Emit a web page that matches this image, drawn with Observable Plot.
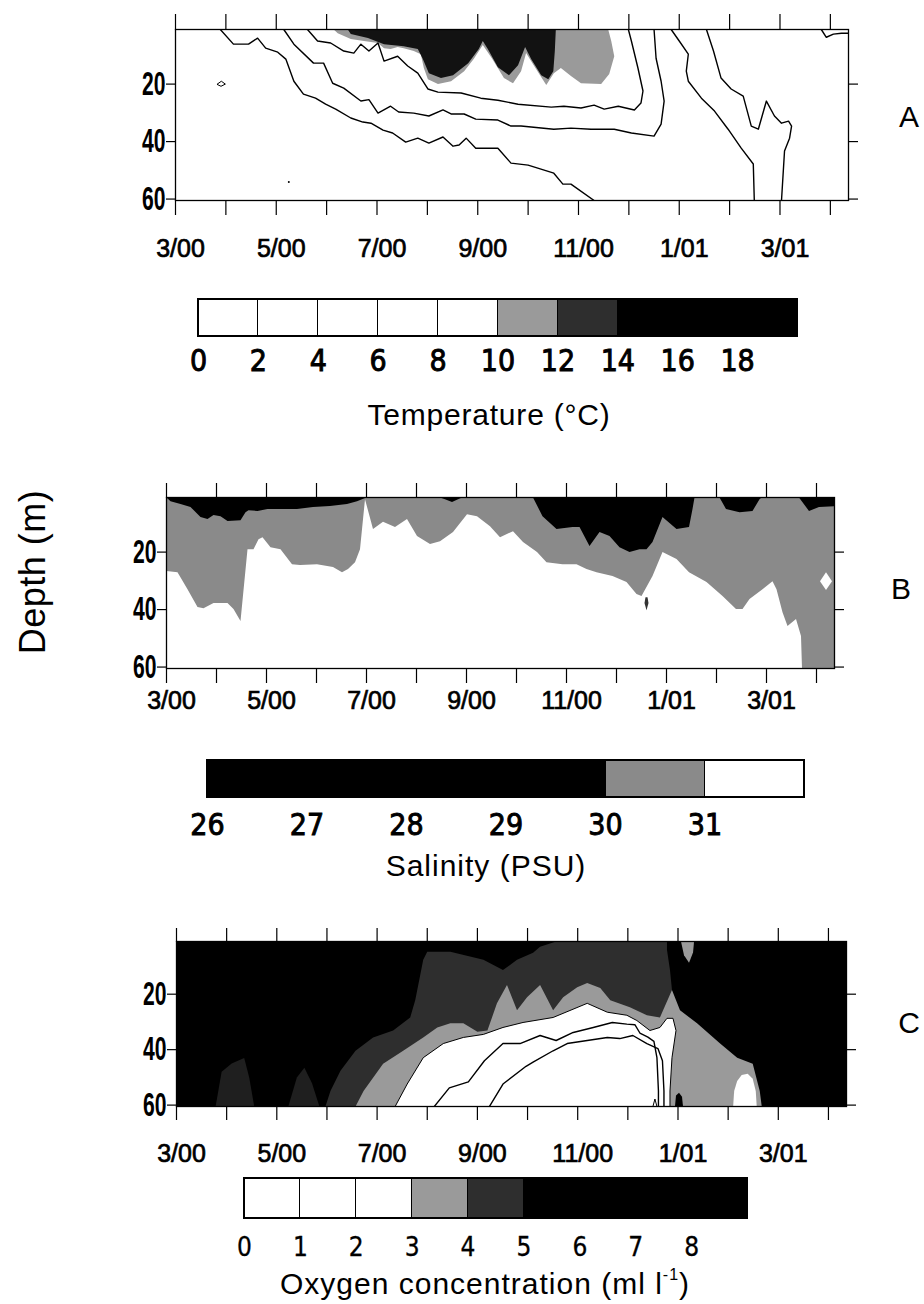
<!DOCTYPE html>
<html>
<head>
<meta charset="utf-8">
<script src="https://cdn.jsdelivr.net/npm/d3@7"></script>
<script src="https://cdn.jsdelivr.net/npm/@observablehq/plot@0.6"></script>
<style>
  html, body { margin: 0; padding: 0; background: white; }
  #page { position: relative; width: 924px; height: 1304px; overflow: hidden; background: white;
          font-family: "Liberation Sans", Arial, Helvetica, sans-serif; color: black; }
  .lbl { position: absolute; white-space: nowrap; line-height: 1; }
</style>
</head>
<body>
<div id="page"></div>
<script>
// ---------- shared time / depth axes (x = months since 1 March 2000, y = depth in m) ----------
const monthTicks = [0, 1, 2, 3, 4, 5, 6, 7, 8, 9, 10, 11, 12, 13];
const dateLabelMonths = [0, 2, 4, 6, 8, 10, 12];
const dateLabels = ["3/00", "5/00", "7/00", "9/00", "11/00", "1/01", "3/01"];
const depthTicks = [20, 40, 60];
const monthDomain = [0, 13.36];
const depthDomain = [1, 60.5];

const LIGHT = "#9a9a9a";   // light stipple class
const DARK = "#2e2e2e";    // dark stipple class
const SALT_GRAY = "#8a8a8a";

// ---------- A: temperature ----------
const tempIso6 = [[0.89,1],[1.15,6.1],[1.45,6.1],[1.63,4.0],[1.79,7.5],[2.03,8.9],[2.19,11.3],[2.35,19.0],[2.54,23.5],[2.78,24.9],[2.98,27.0],[3.18,28.7],[3.48,31.8],[3.72,33.2],[3.88,33.6],[4.12,36.0],[4.31,37.0],[4.57,40.2],[4.81,38.8],[5.03,40.5],[5.31,38.4],[5.51,41.6],[5.63,41.2],[5.77,38.8],[5.96,42.3],[6.40,42.3],[6.66,47.5],[7.00,48.2],[7.51,51.0],[7.69,54.8],[7.85,54.8],[8.31,60.5]];
const tempIso8 = [[2.15,1],[2.35,6.1],[2.74,12.7],[2.94,12.7],[3.12,19.7],[3.34,21.4],[3.68,25.9],[3.84,25.4],[4.02,30.1],[4.27,27.7],[4.43,29.7],[4.73,30.1],[5.03,31.1],[5.31,29.0],[5.47,30.4],[5.73,30.4],[5.96,32.2],[6.40,32.5],[6.66,34.6],[6.86,34.6],[7.51,35.7],[7.85,35.3],[8.25,35.7],[8.71,35.7],[9.05,37.0],[9.50,38.1],[9.64,33.9],[9.70,25.9],[9.64,19.0],[9.54,11.0],[9.50,1]];
const tempIso10 = [[2.62,1],[2.82,5.0],[3.08,5.7],[3.34,8.5],[3.54,9.2],[3.68,6.1],[3.84,8.5],[4.02,5.7],[4.14,12.0],[4.41,10.3],[4.61,13.7],[4.81,16.2],[5.01,21.7],[5.21,22.8],[5.67,23.1],[6.06,24.9],[6.40,25.6],[6.80,27.0],[7.46,28.0],[7.71,27.7],[8.05,28.3],[8.31,27.3],[8.51,28.7],[8.79,27.7],[9.11,29.0],[9.24,26.6],[9.28,22.4],[9.18,14.4],[9.05,5.0],[8.99,1]];
const tempIsoWinter6 = [[9.84,1],[10.00,5.0],[10.18,9.6],[10.14,15.5],[10.18,19.0],[10.44,24.9],[10.70,29.4],[10.97,35.7],[11.23,42.3],[11.47,47.8],[11.49,60.5]];
const tempIso4 = [[10.54,1],[10.68,8.5],[10.83,17.9],[11.03,21.7],[11.27,24.2],[11.43,34.6],[11.57,35.7],[11.73,25.9],[11.89,31.1],[12.03,33.6],[12.17,32.9],[12.23,34.6],[12.19,38.8],[12.09,43.3],[12.03,60.5]];
const tempIso2 = [[12.82,1],[12.92,3.7],[13.06,2.6],[13.22,2.3],[13.36,2.3]];
const tempLoop = [[0.83,20.0],[0.91,19.0],[0.99,20.0],[0.91,20.7]];
const tempSpot = [[2.25,54.1]];
// 10–12 °C band and >12 °C core (outlines, months / depth)
const tempWarm = [[3.14,1],[3.22,2.3],[3.48,4.3],[3.74,5.0],[4.02,5.7],[4.14,7.5],[4.27,7.8],[4.41,7.1],[4.53,7.5],[4.73,8.5],[4.87,9.6],[4.93,14.4],[5.01,18.3],[5.21,20.0],[5.47,19.0],[5.73,15.5],[5.92,11.3],[6.10,6.4],[6.28,11.0],[6.52,17.9],[6.70,19.7],[6.86,15.5],[6.96,9.2],[7.12,13.7],[7.36,20.3],[7.51,16.2],[7.65,14.4],[7.85,17.2],[8.05,19.7],[8.45,20.0],[8.61,16.5],[8.71,10.3],[8.65,5.0],[8.59,1]];
const tempHot = [[3.42,1],[3.48,2.6],[3.82,4.0],[4.14,6.1],[4.53,6.8],[4.81,7.8],[4.91,11.3],[5.03,16.2],[5.27,17.9],[5.51,16.9],[5.81,12.7],[6.02,7.8],[6.10,5.0],[6.20,7.8],[6.40,14.1],[6.62,16.9],[6.80,13.4],[6.94,7.1],[7.06,11.3],[7.26,16.9],[7.40,18.3],[7.50,15.5],[7.53,8.5],[7.55,1]];

const tempLegendLo = [0, 2, 4, 6, 8, 10, 12, 14];
const tempLegendHi = [2, 4, 6, 8, 10, 12, 14, 20];
const tempLegendShade = ["white", "white", "white", "white", "white", LIGHT, DARK, "black"];
const tempLegendTicks = [0, 2, 4, 6, 8, 10, 12, 14, 16, 18];

// ---------- B: salinity ----------
const saltFresh1 = [[0,1],[0.08,2.3],[0.28,3.3],[0.48,4.3],[0.68,7.8],[0.82,8.5],[0.94,7.1],[1.08,7.5],[1.22,9.2],[1.48,8.9],[1.58,6.1],[1.64,5.4],[1.82,5.7],[2.02,5.0],[2.28,5.0],[2.61,5.0],[2.93,4.3],[3.27,4.0],[3.61,3.3],[3.81,2.3],[3.97,1.2],[4.01,1]];
const saltFresh2 = [[5.47,1],[5.57,1.6],[5.71,2.6],[5.83,1.6],[5.91,1]];
const saltFresh3 = [[7.33,1],[7.52,7.5],[7.80,12.0],[8.12,11.3],[8.26,11.3],[8.46,17.9],[8.66,13.0],[8.86,14.4],[9.06,18.3],[9.26,20.0],[9.46,19.0],[9.60,19.0],[9.72,16.5],[9.92,7.8],[10.20,12.0],[10.45,11.3],[10.52,5.0],[10.56,1]];
const saltFresh4 = [[11.06,1],[11.19,5.0],[11.46,6.1],[11.72,5.7],[11.86,1.6],[11.90,1]];
const saltFresh5 = [[12.65,1],[12.85,5.7],[13.05,4.3],[13.36,4.0],[13.36,1]];
// 31 PSU isohaline, left to right
const salt31 = [[0,26.6],[0.22,27.0],[0.42,32.9],[0.62,39.1],[0.74,39.5],[0.94,37.7],[1.22,37.7],[1.34,39.8],[1.48,44.0],[1.62,19.0],[1.74,19.0],[1.84,15.5],[1.92,14.8],[2.08,18.3],[2.28,19.0],[2.51,24.2],[2.67,24.5],[3.01,24.2],[3.33,25.2],[3.51,27.0],[3.63,25.9],[3.77,23.5],[3.87,19.0],[3.97,1.6],[4.13,12.0],[4.33,9.4],[4.57,11.3],[4.81,8.5],[5.01,14.4],[5.27,17.2],[5.47,16.2],[5.73,13.0],[6.01,6.8],[6.21,7.5],[6.47,11.0],[6.67,14.8],[6.93,12.7],[7.13,16.5],[7.41,20.0],[7.60,23.5],[7.92,24.2],[8.20,24.2],[8.40,25.9],[8.60,27.0],[8.92,28.3],[9.20,30.4],[9.40,34.6],[9.50,35.3],[9.72,28.3],[9.92,20.0],[10.20,22.4],[10.45,27.0],[10.80,30.4],[11.12,35.3],[11.39,39.8],[11.52,39.8],[11.66,36.3],[11.92,32.9],[12.12,30.1],[12.20,32.9],[12.32,40.9],[12.42,45.7],[12.59,43.3],[12.69,49.2],[12.71,60.5]];
const saltPocket = [[13.07,30.1],[13.19,27.0],[13.31,30.1],[13.19,33.2]];
const saltDrop = [[9.58,35.7],[9.62,35.7],[9.64,37.7],[9.60,40.2],[9.56,37.7]];

const saltLegendLo = [26, 30, 31];
const saltLegendHi = [30, 31, 32];
const saltLegendShade = ["black", SALT_GRAY, "white"];
const saltLegendTicks = [26, 27, 28, 29, 30, 31];

// ---------- C: oxygen ----------
const oxy45 = [[2.97,60.5],[3.07,54.9],[3.27,47.6],[3.57,40.4],[3.92,35.6],[4.32,33.1],[4.66,28.4],[4.76,22.2],[4.86,13.1],[4.92,7.6],[5.00,4.7],[5.46,4.7],[6.12,7.6],[6.51,11.3],[6.79,7.6],[7.11,5.1],[7.25,2.9],[7.57,1],[9.78,1],[9.78,4.0],[9.84,11.3],[9.88,18.5],[9.88,60.5]];
const oxyPatch1 = [[0.78,60.5],[0.90,48],[1.10,45],[1.35,43],[1.45,50],[1.55,60.5]];
const oxyPatch2 = [[2.23,60.5],[2.40,50],[2.55,46.5],[2.70,52],[2.85,60.5]];
const oxy34 = [[3.57,60.5],[3.73,54.9],[4.12,45.1],[4.52,40.4],[4.92,35.6],[5.20,32.0],[5.46,30.5],[5.72,30.5],[6.00,33.5],[6.20,33.1],[6.39,23.3],[6.59,16.7],[6.79,25.8],[6.99,21.1],[7.25,16.7],[7.51,25.8],[7.71,21.1],[7.99,17.5],[8.19,16.0],[8.45,17.8],[8.65,22.2],[9.04,24.7],[9.38,27.6],[9.64,28.4],[9.88,18.5],[10.04,25.8],[10.38,30.5],[10.84,37.8],[11.18,42.9],[11.49,45.1],[11.63,54.9],[11.67,60.5]];
const oxyTopPatch = [[10.06,1],[10.32,1],[10.30,5],[10.22,8.7],[10.12,6]];
const oxy3 = [[4.36,60.5],[4.60,52.4],[4.92,42.9],[5.32,37.8],[5.72,35.6],[6.12,34.5],[6.51,32.0],[6.91,30.2],[7.51,28.4],[8.19,23.3],[8.59,26.5],[8.98,27.6],[9.18,29.5],[9.44,33.1],[9.64,32.0],[9.78,28.7],[9.90,28.7],[9.96,33.1],[9.88,42.9],[9.84,54.9],[9.84,60.5]];
const oxy2 = [[5.14,60.5],[5.44,53.8],[5.82,51.6],[6.14,44.0],[6.51,37.8],[6.85,37.8],[7.25,34.9],[7.57,36.7],[7.91,33.8],[8.31,32.0],[8.69,30.2],[8.98,30.8],[9.14,31.0],[9.24,34.0],[9.40,35.5],[9.52,37.0],[9.58,42.9],[9.61,54.9],[9.61,60.5]];
const oxy1 = [[6.24,60.5],[6.51,52.4],[6.97,46.0],[7.11,44.5],[7.51,40.4],[7.79,37.8],[8.19,36.7],[8.59,35.6],[8.84,36.0],[9.10,34.9],[9.38,37.8],[9.60,39.6],[9.69,44.0],[9.72,54.9],[9.72,60.5]];
const oxyTinyLoop = [[9.50,60.5],[9.54,57.8],[9.58,60.5]];
const oxyDeepSpot = [[9.94,60.5],[9.96,56.5],[10.02,55.5],[10.08,57.0],[10.10,60.5]];
const oxyLowPocket = [[11.10,60.5],[11.12,54.9],[11.18,51.3],[11.27,49.1],[11.39,48.7],[11.49,50.5],[11.55,54.9],[11.57,60.5]];

const oxyLegendLo = [0, 1, 2, 3, 4, 5];
const oxyLegendHi = [1, 2, 3, 4, 5, 9];
const oxyLegendShade = ["white", "white", "white", LIGHT, DARK, "black"];
const oxyLegendTicks = [0, 1, 2, 3, 4, 5, 6, 7, 8];

// ---------- drawing helpers ----------
const W = 924;
const page = document.getElementById("page");
const dateText = new Map(dateLabelMonths.map((m, i) => [m, dateLabels[i]]));
const SANS = '"Liberation Sans", Arial, Helvetica, sans-serif';
const NARROW = '"Liberation Sans Narrow", "Arial Narrow", "DejaVu Sans Condensed", sans-serif';

const px = d => d[0];
const py = d => d[1];
const region = (pts, fill) => Plot.line(pts, {x: px, y: py, fill, stroke: "none", curve: "linear-closed", clip: true});
const contour = (pts, opts = {}) => Plot.line(pts, {x: px, y: py, stroke: "black", strokeWidth: 1.4, clip: true, ...opts});

// slightly heavier strokes for the medium-weight numerals
function thicken(svg, selector, w) {
  svg.querySelectorAll(selector).forEach(t => {
    t.style.stroke = "black";
    t.style.strokeWidth = w + "px";
    t.style.paintOrder = "stroke";
  });
}

function place(el, top) {
  el.style.position = "absolute";
  el.style.left = "0px";
  el.style.top = top + "px";
  page.appendChild(el);
}

function sectionPlot(cfg, marks) {
  const svg = Plot.plot({
    width: W, height: cfg.h,
    marginLeft: cfg.left, marginRight: W - cfg.right,
    marginTop: cfg.top, marginBottom: cfg.h - cfg.bottom,
    x: {domain: monthDomain, label: null},
    y: {domain: depthDomain, reverse: true, label: null},
    style: {background: "transparent", overflow: "visible", fontFamily: SANS, color: "black"},
    marks: [
      ...marks,
      Plot.frame({stroke: "black", strokeWidth: 1.3}),
      Plot.axisX({anchor: "top", ticks: monthTicks, tickSize: cfg.tickTop, tickFormat: () => "", strokeWidth: 1.2}),
      Plot.axisX({anchor: "bottom", ticks: monthTicks, tickSize: cfg.tickBottom, tickFormat: () => "", strokeWidth: 1.2}),
      Plot.axisX({anchor: "bottom", ticks: dateLabelMonths, tickSize: 0, tickPadding: cfg.labelPad,
                  tickFormat: d => dateText.get(d), fontSize: 25, fontFamily: SANS, dx: 5}),
      Plot.axisY({anchor: "left", ticks: depthTicks, tickSize: 9, tickPadding: 1, strokeWidth: 1.2,
                  fontSize: 33, fontWeight: "bold", fontFamily: SANS}),
      Plot.axisY({anchor: "right", ticks: depthTicks, tickSize: 9, tickFormat: () => "", strokeWidth: 1.2})
    ]
  });
  // the depth numerals are set in a tall, condensed cut
  svg.querySelectorAll('g[aria-label="y-axis tick label"] text').forEach(t => {
    const tr = t.getAttribute("transform") || "";
    t.setAttribute("transform", tr + " scale(0.64,1)");
  });
  thicken(svg, 'g[aria-label="x-axis tick label"] text', 0.7);
  place(svg, cfg.svgTop);
  return svg;
}

function shadeBar(cfg, lo, hi, shade, ticks) {
  const idx = lo.map((_, i) => i);
  const svg = Plot.plot({
    width: W, height: cfg.h,
    marginLeft: cfg.left, marginRight: W - cfg.right,
    marginTop: cfg.top, marginBottom: cfg.h - cfg.bottom,
    x: {domain: cfg.domain, label: null},
    style: {background: "transparent", overflow: "visible", fontFamily: SANS, color: "black"},
    marks: [
      Plot.rect(idx, {x1: i => lo[i], x2: i => hi[i], fill: i => shade[i], stroke: "black", strokeWidth: 1.2}),
      Plot.frame({stroke: "black", strokeWidth: 1.2}),
      Plot.axisX({anchor: "bottom", ticks, tickSize: 0, tickPadding: cfg.pad, tickFormat: d => String(d),
                  fontSize: cfg.font, fontFamily: NARROW})
    ]
  });
  svg.querySelectorAll("rect").forEach(r => r.setAttribute("shape-rendering", "crispEdges"));
  thicken(svg, 'g[aria-label="x-axis tick label"] text', cfg.weight);
  place(svg, cfg.svgTop);
  return svg;
}

function textLabel(html, cx, cy, size, extra = "", spacing = "0px") {
  const d = document.createElement("div");
  d.className = "lbl";
  d.innerHTML = html;
  d.style.fontSize = size + "px";
  d.style.letterSpacing = spacing;
  d.style.left = cx + "px";
  d.style.top = cy + "px";
  d.style.transform = "translate(-50%, -50%)" + extra;
  page.appendChild(d);
  return d;
}

// ---------- panel A ----------
sectionPlot({svgTop: 0, h: 270, left: 175, right: 848, top: 29, bottom: 200, tickTop: 16, tickBottom: 15, labelPad: 39}, [
  region(tempWarm, LIGHT),
  region(tempHot, "#121212"),
  contour(tempIso6), contour(tempIso8), contour(tempIso10),
  contour(tempIsoWinter6), contour(tempIso4), contour(tempIso2),
  contour(tempLoop, {curve: "linear-closed", strokeWidth: 1}),
  Plot.dot(tempSpot, {x: px, y: py, r: 1, fill: "black", stroke: "none"})
]);
shadeBar({svgTop: 280, h: 100, left: 198, right: 797, top: 19, bottom: 56, pad: 13, font: 30, weight: 0.9, domain: [0, 20]},
  tempLegendLo, tempLegendHi, tempLegendShade, tempLegendTicks);
textLabel("Temperature (°C)", 489, 415, 30, "", "0.8px");

// ---------- panel B ----------
const saltGrayRing = [[monthDomain[0], depthDomain[0]], [monthDomain[1], depthDomain[0]], [monthDomain[1], depthDomain[1]], ...salt31.slice().reverse()];
sectionPlot({svgTop: 470, h: 250, left: 166, right: 834, top: 27, bottom: 198, tickTop: 15, tickBottom: 15, labelPad: 23}, [
  region(saltGrayRing, SALT_GRAY),
  region(saltFresh1, "black"), region(saltFresh2, "black"), region(saltFresh3, "black"),
  region(saltFresh4, "black"), region(saltFresh5, "black"),
  region(saltPocket, "white"),
  region(saltDrop, "#333")
]);
shadeBar({svgTop: 740, h: 100, left: 207, right: 804, top: 20, bottom: 57, pad: 16, font: 30, weight: 0.9, domain: [26, 32]},
  saltLegendLo, saltLegendHi, saltLegendShade, saltLegendTicks);
textLabel("Salinity (PSU)", 486, 866, 30, "", "1px");

// ---------- panel C ----------
sectionPlot({svgTop: 915, h: 260, left: 176, right: 846, top: 26, bottom: 191, tickTop: 14, tickBottom: 14, labelPad: 38}, [
  Plot.frame({fill: "black", stroke: "none"}),
  region(oxyPatch1, "#1f1f1f"), region(oxyPatch2, "#1f1f1f"),
  region(oxy45, DARK),
  region(oxy34, LIGHT),
  region(oxyTopPatch, LIGHT),
  region(oxy3, "white"),
  region(oxyLowPocket, "white"),
  region(oxyDeepSpot, "black"),
  contour(oxy3, {strokeWidth: 1}),
  contour(oxy2), contour(oxy1),
  contour(oxyTinyLoop, {strokeWidth: 1})
]);
shadeBar({svgTop: 1160, h: 110, left: 244, right: 747, top: 18, bottom: 58, pad: 19, font: 26, weight: 0.3, domain: [0, 9]},
  oxyLegendLo, oxyLegendHi, oxyLegendShade, oxyLegendTicks);
textLabel('Oxygen concentration (ml l<sup style="font-size:16px;vertical-align:14px;line-height:0">-1</sup>)', 485, 1284, 30, "", "1px");

// ---------- shared labels ----------
textLabel("Depth (m)", 33, 572, 36, " rotate(-90deg)", "0.5px");
textLabel("A", 909, 117, 30);
textLabel("B", 901, 589, 30);
textLabel("C", 909, 1023, 30);
</script>
</body>
</html>
